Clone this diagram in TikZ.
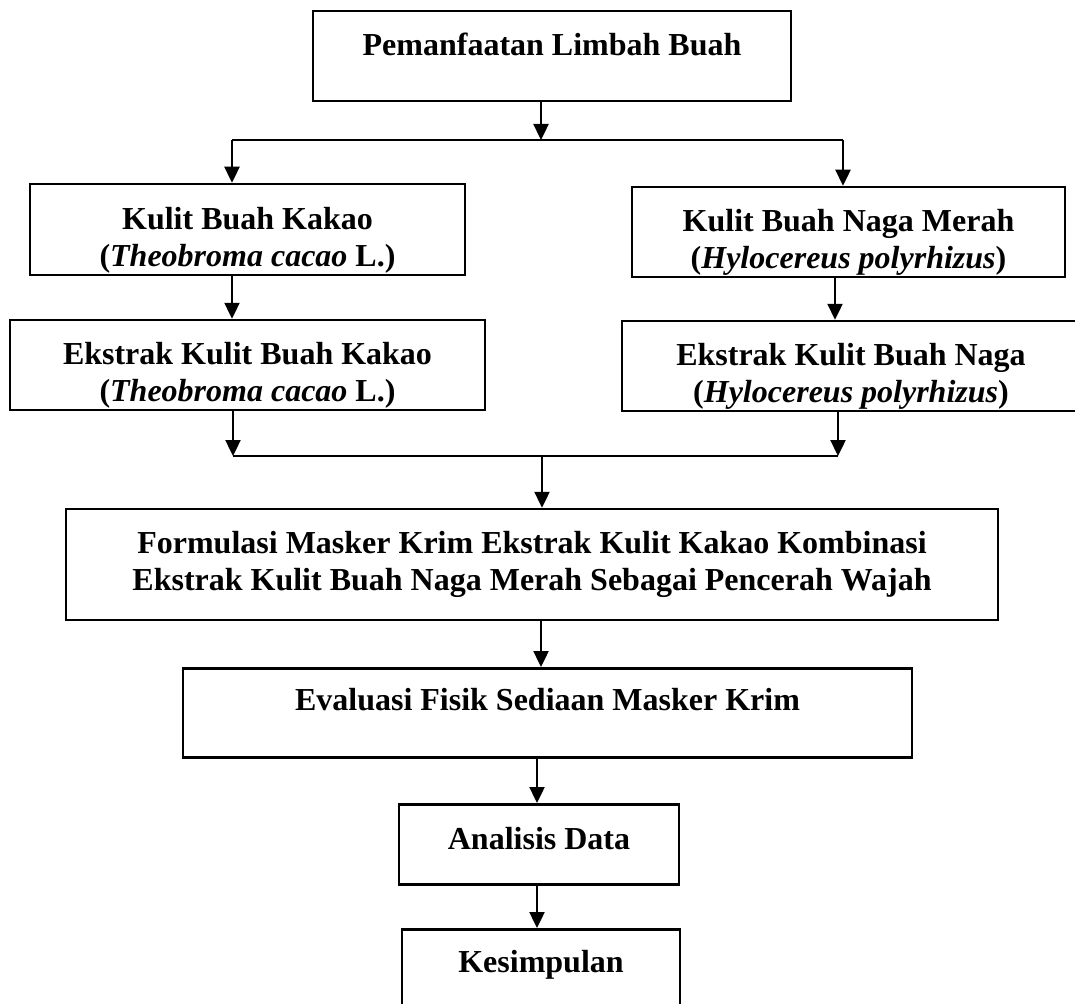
\documentclass[tikz,border=0pt]{standalone}
\usepackage{fontspec}
\setmainfont{Liberation Serif}
\usetikzlibrary{arrows.meta}

\newcommand{\topgap}{\rule{0pt}{43pt}} % pushes the two lines down a bit
\tikzset{box/.style={draw, line width=2.5pt, inner sep=0pt, align=center,
    font=\fontsize{32}{37}\selectfont\bfseries},
  arr/.style={-{Triangle[length=16pt,width=15pt]}, line width=2.4pt},
  joint/.style={line width=2.4pt}}

\begin{document}
\begin{tikzpicture}[x=1pt,y=-1pt]
 \useasboundingbox (0,0) rectangle (1075,1003); % page = picture
 \node[box, anchor=north, minimum width=478pt, text height=44pt, text depth=46pt] (limbah) at (552,10) {Pemanfaatan Limbah Buah};
 \node[box, minimum width=435pt, minimum height=91pt] (kulitK) at (247.5,229.5) {\topgap Kulit Buah Kakao\\(\textit{Theobroma cacao} L.)};
 \node[box, minimum width=433pt, minimum height=90pt] (kulitN) at (848.5,232) {\topgap Kulit Buah Naga Merah\\(\textit{Hylocereus polyrhizus})};
 \node[box, minimum width=475pt, minimum height=90pt] (ekstrakK) at (247.5,365) {\topgap Ekstrak Kulit Buah Kakao\\(\textit{Theobroma cacao} L.)};
 \node[box, minimum width=458pt, minimum height=90pt] (ekstrakN) at (851,366) {\topgap Ekstrak Kulit Buah Naga\\(\textit{Hylocereus polyrhizus})};
 \node[box, minimum width=932pt, minimum height=111pt] (formulasi) at (532,564.5) {Formulasi Masker Krim Ekstrak Kulit Kakao Kombinasi\\Ekstrak Kulit Buah Naga Merah Sebagai Pencerah Wajah};
 \node[box, anchor=north, minimum width=729pt, text height=42pt, text depth=47pt] (evaluasi) at (547.5,667) {Evaluasi Fisik Sediaan Masker Krim};
 \node[box, anchor=north, minimum width=280pt, text height=45pt, text depth=35pt] (analisis) at (539,803) {Analisis Data};
 \node[box, anchor=north, minimum width=278pt, text height=43pt, text depth=45pt] (kesimpulan) at (541,928) {Kesimpulan};

 % split points
 \coordinate (splitT) at (541,140);
 \coordinate (tl) at (232,140);
 \coordinate (tr) at (843,140);
 \coordinate (bl) at (233,456);
 \coordinate (br) at (838,456);
 \coordinate (bm) at (542,456);

 \draw[arr] (limbah.south -| splitT) -- (splitT);
 \draw[joint] (tl) -- (tr);
 \draw[arr] (tl) -- (tl |- kulitK.north);
 \draw[arr] (tr) -- (tr |- kulitN.north);
 \draw[arr] (tl |- kulitK.south) -- (tl |- ekstrakK.north);
 \draw[arr] ([xshift=-8pt]tr |- kulitN.south) -- ([xshift=-8pt]tr |- ekstrakN.north);
 \draw[arr] (bl |- ekstrakK.south) -- (bl);
 \draw[arr] (br |- ekstrakN.south) -- (br);
 \draw[joint] (bl) -- (br);
 \draw[arr] (bm) -- (bm |- formulasi.north);
 \draw[arr] (splitT |- formulasi.south) -- (splitT |- evaluasi.north);
 \foreach \a/\b in {evaluasi/analisis,analisis/kesimpulan} % lower column
  \draw[arr] ([xshift=-4pt]splitT |- \a.south) -- ([xshift=-4pt]splitT |- \b.north);
\end{tikzpicture}
\end{document}
